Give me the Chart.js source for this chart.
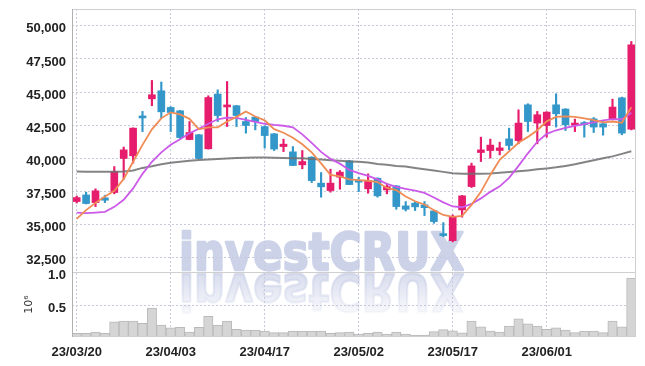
<!DOCTYPE html>
<html lang="en">
  <head>
    <meta charset="UTF-8" />
    <title>investCRUX candles</title>
    <script src="https://cdn.jsdelivr.net/npm/chart.js"></script>
    <style>
      html, body { margin: 0; padding: 0; background: #fff; }
      canvas { display: block; }
    </style>
  </head>
  <body>
    <canvas id="chart" width="645" height="366"></canvas>
    <script>
      // trading days, 23/03/20 .. 23/06/15
      const dates = [
        "23/03/20", "23/03/21", "23/03/22", "23/03/23", "23/03/24", "23/03/27", "23/03/28", "23/03/29", "23/03/30", "23/03/31",
        "23/04/03", "23/04/04", "23/04/05", "23/04/06", "23/04/07", "23/04/10", "23/04/11", "23/04/12", "23/04/13", "23/04/14",
        "23/04/17", "23/04/18", "23/04/19", "23/04/20", "23/04/21", "23/04/24", "23/04/25", "23/04/26", "23/04/27", "23/04/28",
        "23/05/02", "23/05/03", "23/05/04", "23/05/08", "23/05/09", "23/05/10", "23/05/11", "23/05/12", "23/05/15", "23/05/16",
        "23/05/17", "23/05/18", "23/05/19", "23/05/22", "23/05/23", "23/05/24", "23/05/25", "23/05/26", "23/05/30", "23/05/31",
        "23/06/01", "23/06/02", "23/06/05", "23/06/07", "23/06/08", "23/06/09", "23/06/12", "23/06/13", "23/06/14", "23/06/15"
      ];

      const opens = [
        36740, 37240, 36660, 37020, 37420, 39990, 40190, 43110, 44490, 45100,
        43840, 43590, 41420, 41780, 40720, 44850, 43880, 43970, 42780, 43110,
        42400, 41850, 40890, 40490, 39510, 40090, 38130, 37570, 38580, 39810,
        38320, 37700, 38500, 37620, 37920, 36410, 36620, 36490, 36030, 34220,
        33790, 36110, 37870, 40440, 40590, 40590, 41470, 41340, 44040, 42660,
        42480, 44040, 43720, 42510, 42650, 42980, 42610, 42980, 44570, 42210
      ];
      const highs = [
        37160, 37450, 37700, 37220, 39380, 40850, 42300, 43540, 45880, 45760,
        43900, 43620, 42780, 41800, 44720, 45170, 45800, 44000, 43080, 43160,
        42450, 41880, 41450, 40890, 40590, 40120, 38930, 39180, 39080, 39850,
        38580, 38830, 38530, 38070, 37950, 36740, 36690, 36740, 36060, 35150,
        35730, 37200, 39640, 41600, 41450, 41220, 42280, 43660, 44120, 43540,
        43520, 44870, 43750, 42960, 42780, 43080, 42780, 44470, 44620, 48820
      ];
      const lows = [
        36630, 36560, 36360, 36660, 37320, 38430, 39640, 42020, 43970, 43040,
        42020, 41500, 41400, 39980, 40700, 42780, 42400, 42400, 41900, 42150,
        40770, 40590, 40510, 39460, 39210, 38170, 37070, 37450, 37670, 38020,
        37490, 37370, 37070, 37320, 36160, 36030, 36060, 35680, 35100, 34090,
        33700, 35560, 37800, 39760, 40020, 40260, 40640, 41100, 42020, 41100,
        41600, 42360, 42100, 42020, 41600, 41950, 41750, 42910, 41780, 42150
      ];
      const closes = [
        37040, 36590, 37550, 36840, 39000, 40640, 42280, 43050, 44800, 43510,
        43460, 41570, 41950, 39990, 44590, 43230, 43940, 43230, 42480, 42780,
        41720, 40700, 41070, 39460, 39760, 38320, 37850, 38130, 38960, 38020,
        38200, 38320, 37170, 37870, 36360, 36160, 36340, 36280, 35230, 34170,
        35600, 37170, 39430, 40640, 41000, 40790, 40970, 42660, 42780, 43290,
        43490, 43360, 42530, 42660, 42550, 42360, 42360, 43870, 41900, 48570
      ];

      // moving averages
      const maShort = [
        35430, 36090, 36640, 37120, 37550, 38450, 39740, 41020, 42190, 43020,
        43470, 43320, 42980, 42190, 42340, 42340, 42780, 43130, 43540, 43160,
        42870, 42200, 41930, 41550, 41060, 40450, 39620, 38750, 38640, 38410,
        38360, 38310, 38210, 37770, 37610, 37120, 36760, 36520, 36090, 35730,
        35580, 35660, 36490, 37470, 38750, 39890, 40530, 41170, 41620, 42120,
        42790, 43130, 43160, 43130, 43020, 42890, 42720, 42780, 42680, 43850
      ];
      const maMid = [
        35900, 35860, 35910, 35960, 36340, 36870, 37730, 38830, 39740, 40450,
        41020, 41440, 41890, 42230, 42610, 42950, 43080, 43060, 42910, 42760,
        42610, 42520, 42460, 42340, 41810, 41170, 40490, 39960, 39600, 39130,
        38880, 38680, 38410, 38070, 37850, 37700, 37560, 37390, 37050, 36680,
        36370, 36310, 36560, 36980, 37470, 37890, 38530, 39430, 40380, 41250,
        41850, 42120, 42300, 42460, 42590, 42720, 42870, 42960, 42950, 43440
      ];
      const maLong = [
        39000, 38995, 38980, 38980, 38980, 39000, 39090, 39280, 39400, 39550,
        39660, 39740, 39810, 39870, 39920, 39960, 39990, 40020, 40045, 40060,
        40060, 40045, 40030, 40015, 40015, 39960, 39920, 39860, 39810, 39770,
        39740, 39680, 39580, 39510, 39430, 39380, 39280, 39180, 39090, 38980,
        38880, 38845, 38830, 38830, 38850, 38905, 38965, 39020, 39090, 39170,
        39240, 39320, 39430, 39550, 39700, 39850, 40000, 40150, 40340, 40530
      ];

      // volume, millions of shares
      const volumes = [
        0.095, 0.095, 0.114, 0.095, 0.263, 0.277, 0.277, 0.243, 0.466, 0.218,
        0.174, 0.184, 0.114, 0.184, 0.347, 0.218, 0.277, 0.154, 0.144, 0.144,
        0.129, 0.104, 0.104, 0.129, 0.129, 0.129, 0.129, 0.095, 0.104, 0.114,
        0.085, 0.095, 0.114, 0.085, 0.114, 0.085, 0.070, 0.070, 0.120, 0.150,
        0.130, 0.100, 0.277, 0.189, 0.129, 0.114, 0.203, 0.307, 0.233, 0.203,
        0.154, 0.174, 0.144, 0.104, 0.129, 0.129, 0.104, 0.277, 0.189, 0.911
      ];

      const priceTicks = [32500, 35000, 37500, 40000, 42500, 45000, 47500, 50000];
      const volumeTicks = [0.5, 1.0];

      const upColor = "#e61c6c";
      const downColor = "#3397c9";
      const gridColor = "#c9c9dc";
      const tickFont = { family: "'Liberation Sans', Arial, sans-serif", size: 13, weight: "bold" };

      const candleColor = c => (closes[c.dataIndex] >= opens[c.dataIndex] ? upColor : downColor);

      // y axes: fixed width, no extra room for the end labels
      const fitLeft = s => { s.width = 72; s.paddingTop = 0; s.paddingBottom = 0; };

      const backdrop = {
        id: "backdrop",
        beforeDraw(chart) {
          const { ctx } = chart;
          const sep = chart.scales.y.bottom;
          const text = "investCRUX";
          ctx.save();
          ctx.font = "bold 52px 'DejaVu Sans'";
          ctx.lineJoin = "round";
          ctx.lineWidth = 2.4;
          const sx = 285 / ctx.measureText(text).width;
          ctx.translate(179, sep - 2);
          ctx.scale(sx, 1);
          ctx.fillStyle = ctx.strokeStyle = "rgb(204,210,232)";
          ctx.fillText(text, 0, 0);
          ctx.strokeText(text, 0, 0);
          // mirrored copy under the separator
          ctx.scale(1, -1);
          ctx.translate(0, -4);
          const g = ctx.createLinearGradient(0, 0, 0, -42);
          g.addColorStop(0, "rgba(204,210,232,0.75)");
          g.addColorStop(1, "rgba(204,210,232,0.08)");
          ctx.fillStyle = ctx.strokeStyle = g;
          ctx.fillText(text, 0, 0);
          ctx.strokeText(text, 0, 0);
          ctx.restore();
        },
        afterDatasetsDraw(chart) {
          const { ctx, chartArea: a } = chart;
          const sep = chart.scales.y.bottom;
          ctx.save();
          ctx.lineWidth = 1;
          ctx.strokeStyle = "#cfcfcf";
          ctx.beginPath();
          ctx.moveTo(a.left, a.top + 0.5);
          ctx.lineTo(a.right - 0.5, a.top + 0.5);
          ctx.lineTo(a.right - 0.5, a.bottom - 0.5);
          ctx.lineTo(a.left, a.bottom - 0.5);
          ctx.moveTo(a.left, Math.round(sep) + 0.5);
          ctx.lineTo(a.right, Math.round(sep) + 0.5);
          ctx.stroke();
          ctx.strokeStyle = "#b0b0b0";
          ctx.beginPath();
          ctx.moveTo(a.left + 0.5, a.top);
          ctx.lineTo(a.left + 0.5, a.bottom);
          ctx.stroke();
          ctx.restore();
        }
      };

      new Chart(document.getElementById("chart"), {
        type: "bar",
        data: {
          labels: dates,
          datasets: [
            { type: "line", data: maShort, yAxisID: "y", borderColor: "#ef8c55", borderWidth: 1.8, pointRadius: 0, tension: 0, order: 0 },
            { type: "line", data: maMid, yAxisID: "y", borderColor: "#cc5ae8", borderWidth: 1.8, pointRadius: 0, tension: 0, order: 0 },
            { type: "line", data: maLong, yAxisID: "y", borderColor: "rgba(110,110,110,0.85)", borderWidth: 2, pointRadius: 0, tension: 0, order: 0 },
            {
              data: opens.map((o, i) => [o, closes[i]]),
              yAxisID: "y", backgroundColor: candleColor, barThickness: 7, minBarLength: 2, grouped: false, order: 1
            },
            {
              data: lows.map((l, i) => [l, highs[i]]),
              yAxisID: "y", backgroundColor: candleColor, barThickness: 1.5, grouped: false, order: 2
            },
            {
              data: volumes,
              yAxisID: "yv", backgroundColor: "#d5d5d5", borderColor: "#b9b9b9", borderWidth: 1,
              barPercentage: 1, categoryPercentage: 1, grouped: false, order: 3
            }
          ]
        },
        options: {
          responsive: false,
          animation: false,
          devicePixelRatio: 1,
          layout: { padding: { top: 9, right: 9, left: 0, bottom: 0 } },
          plugins: { legend: { display: false }, tooltip: { enabled: false } },
          scales: {
            x: {
              offset: true,
              afterBuildTicks: s => { s.ticks = s.ticks.filter(t => t.value % 10 === 0); },
              ticks: { autoSkip: false, maxRotation: 0, padding: 8, color: "#222", font: tickFont },
              grid: { offset: false, color: gridColor, drawTicks: false },
              border: { display: false, dash: [2, 2] },
              afterFit: s => { s.height = 29; }
            },
            yv: {
              stack: "panes",
              stackWeight: 1,
              position: "left",
              min: 0.04,
              max: 1.0,
              afterBuildTicks: s => { s.ticks = volumeTicks.map(v => ({ value: v })); },
              ticks: { autoSkip: false, padding: 6, labelOffset: 3, color: "#222", font: tickFont, callback: v => v.toFixed(1) },
              grid: { color: gridColor, drawTicks: false },
              border: { display: false, dash: [2, 2] },
              title: { display: true, text: "10⁶", color: "#333", font: { family: "'DejaVu Sans'", size: 11 }, padding: { top: 23, bottom: 0 } },
              afterFit: fitLeft
            },
            y: {
              stack: "panes",
              stackWeight: 4.05,
              position: "left",
              min: 31420,
              max: 51270,
              afterBuildTicks: s => { s.ticks = priceTicks.map(v => ({ value: v })); },
              ticks: { autoSkip: false, padding: 6, labelOffset: 3, color: "#222", font: tickFont, callback: v => v.toLocaleString("en-US") },
              grid: { color: gridColor, drawTicks: false },
              border: { display: false, dash: [2, 2] },
              afterFit: fitLeft
            }
          }
        },
        plugins: [backdrop]
      });
    </script>
  </body>
</html>
